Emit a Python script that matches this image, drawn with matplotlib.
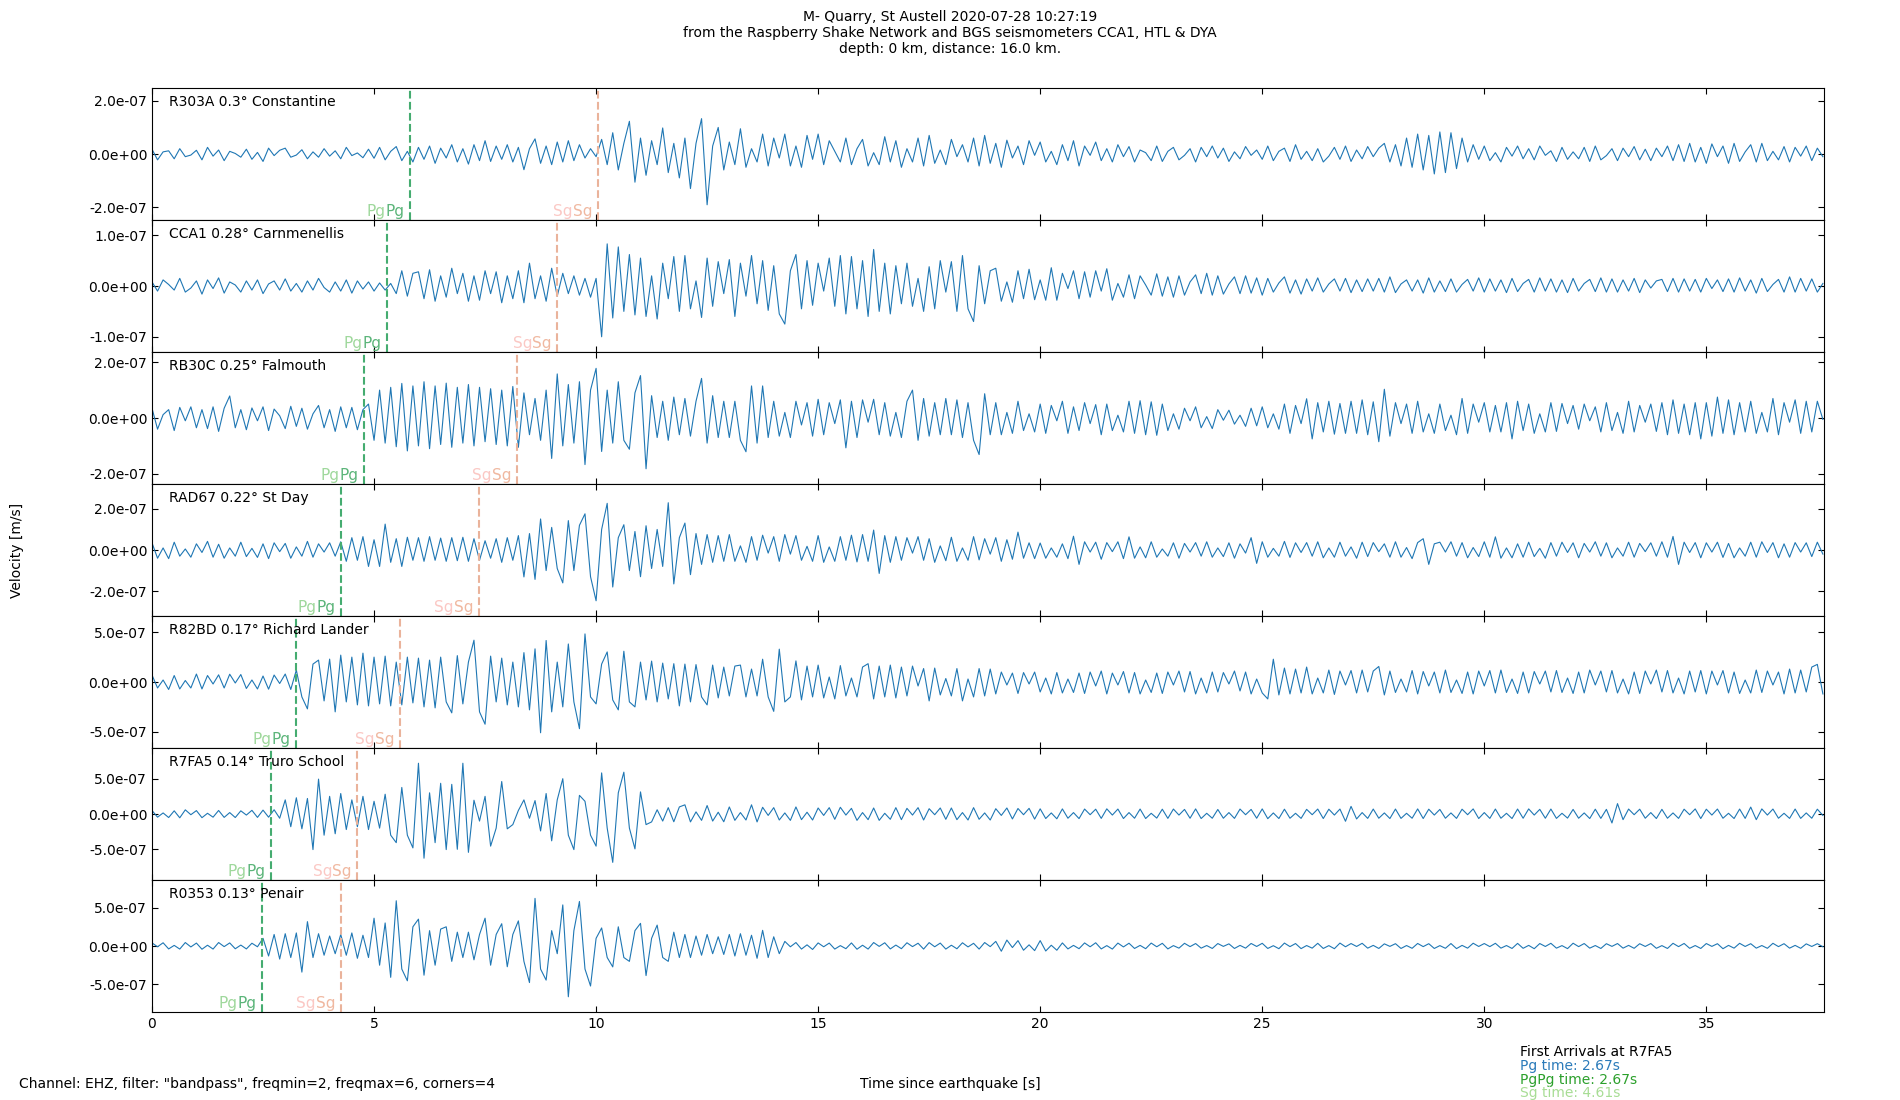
import numpy as np
import matplotlib
matplotlib.use("Agg")
import matplotlib.pyplot as plt
from matplotlib.ticker import MultipleLocator, FormatStrFormatter

# ---------------- data ----------------
stations = ["R303A 0.3° Constantine", "CCA1 0.28° Carnmenellis", "RB30C 0.25° Falmouth",
            "RAD67 0.22° St Day", "R82BD 0.17° Richard Lander", "R7FA5 0.14° Truro School",
            "R0353 0.13° Penair"]
pg_times = [5.81, 5.29, 4.78, 4.26, 3.24, 2.67, 2.47]
sg_times = [10.04, 9.13, 8.22, 7.36, 5.58, 4.62, 4.25]
sample_dt = 0.125          # seconds between samples
unit = 1e-9                # amplitudes below are in nm/s

r303a = [
 18,-22,8,12,-18,20,-10,-4,  14,-22,25,-8,15,-25,10,2,  -12,18,-20,6,-28,22,-6,14,
 22,-12,-4,16,-18,8,-12,20,  -8,12,-18,25,-6,4,-14,18,  -16,25,-22,10,28,-25,10,-30,
 25,-20,30,-35,22,-15,35,-30,  20,-38,35,-25,50,-28,30,-20,  35,-30,25,-59,20,57,-35,30,
 -40,45,-30,50,-25,35,-15,20,  -10,55,-40,80,-60,40,123,-106,  60,-80,50,-40,98,-70,40,-90,
 60,-130,40,133,-191,30,100,-60,  45,-40,95,-50,20,-30,75,-45,  60,-15,75,-45,30,-50,70,-20,
 75,-40,50,10,-30,60,-40,20,  55,-45,5,-40,65,-30,50,-50,  20,-30,60,-45,70,-35,15,-40,
 55,-10,35,-30,60,-45,70,-35,  40,-50,52,-15,30,-40,50,-5,  45,-30,10,-40,35,-25,50,-45,
 30,-5,45,-25,20,-30,35,-10,  28,-30,15,5,-25,30,-28,10,  25,-22,-5,20,-30,25,-10,30,
 -15,22,-28,8,-18,28,-5,15,  -20,30,-25,10,22,-28,35,-20,  10,-25,20,-30,-8,25,-20,30,
 -28,15,-18,28,-10,22,40,-30,  35,-45,60,-50,75,-60,70,-75,  83,-70,80,-55,60,-30,35,-20,
 30,-25,5,-30,25,-8,30,-18,  20,-22,30,-5,12,-28,25,-20,  8,-18,25,-28,30,-22,-6,20,
 -25,22,-10,28,-22,18,-25,22,  -10,30,-25,35,-28,40,-30,25,  -35,38,-10,30,-35,40,-28,8,
 35,-30,40,-25,10,-22,28,-30,  25,-8,30,-25,22,-10]

cca1 = [
 8,-10,12,3,-8,15,-12,-4,  10,-16,12,-5,16,-14,8,2,  -12,10,-8,12,-15,4,10,-8,
 14,-10,5,-12,10,-8,15,-3,  -12,8,-10,12,-14,10,-6,8,  -10,6,-8,5,-15,30,-20,25,
 28,-25,32,-30,20,-22,35,-15,  25,-30,20,-28,30,-15,28,-33,  20,-25,30,-33,45,-25,20,-30,
 35,-20,25,-15,20,-18,15,-22,  15,-100,83,-63,77,-50,62,-57,  55,-60,20,-65,45,-25,58,-50,
 60,-45,10,-62,55,-40,48,-15,  52,-60,45,-20,60,-35,50,-48,  40,-55,-75,30,62,-45,50,-38,
 45,-10,55,-40,60,-55,58,-45,  50,-60,72,-50,45,-55,40,-35,  45,-40,15,-50,38,-45,50,-12,
 48,-50,60,-45,-70,40,-35,30,  35,-30,8,-32,30,-25,33,-27,  12,-28,36,-28,25,-5,30,-25,
 28,-22,30,-10,34,-28,5,-22,  22,-25,20,2,-18,24,-20,18,  -22,20,-18,8,22,-15,25,-18,
 20,-16,4,18,-15,20,-14,16,  -18,15,-12,6,18,-14,12,-16,  14,-10,16,-12,4,14,-10,15,
 -13,12,-11,14,-10,15,-12,18,  -13,4,12,-10,12,-14,16,-12,  10,-11,14,-12,3,13,-10,16,
 -12,14,-10,12,-13,15,-11,5,  13,-12,16,-10,14,-12,12,-13,  15,-10,5,13,-11,16,-12,14,
 -12,12,-10,15,-13,12,-4,10,  13,-11,15,-12,14,-10,13,-12,  15,-5,12,-11,14,-12,16,-10,
 12,-14,15,-11,3,13,-12,18,  -12,15,-10,14,-12,5]

rb30c = [
 35,-40,12,30,-45,38,-10,40,  -35,30,-38,40,-48,35,79,-35,  30,-42,36,-10,40,-45,32,8,
 -38,42,-30,35,-40,15,45,-35,  30,-48,40,-35,38,-42,30,50,  -80,100,-90,110,-103,124,-118,115,
 -100,130,-110,115,-95,125,-105,110,  -90,120,-100,110,-85,105,-95,100,  -100,113,-105,90,-60,70,-80,100,
 -145,158,-100,120,-90,130,-167,100,  178,-120,100,-90,130,-80,-112,90,  152,-182,80,-70,60,-80,75,-60,
 70,-65,60,142,-90,80,-70,60,  -70,60,-80,-121,115,-90,115,-70,  60,-65,20,-70,60,-25,55,-65,
 67,-60,55,-20,65,-107,60,-70,  65,-15,67,-60,55,-65,20,-70,  60,100,-80,70,-65,55,-60,70,
 -60,65,-70,55,-80,-131,87,-60,  55,-60,20,-55,60,-45,15,-50,  50,-55,45,-10,60,-55,40,-45,
 55,-20,48,-60,50,-45,10,-50,  60,-55,62,-60,58,-62,50,-45,  15,-40,35,-10,40,-35,5,-38,
 30,-8,28,-22,10,-30,35,-28,  40,-35,15,-40,50,-55,45,-20,  69,-75,55,-50,60,-58,52,-55,
 60,-55,65,-60,58,-85,103,-65,  55,-20,50,-55,60,-50,15,-55,  50,-45,10,-60,70,-55,50,-15,
 55,-50,45,-50,55,-75,60,-45,  50,-55,15,-50,55,-48,52,-20,  45,-40,50,-10,40,-50,55,-45,
 20,-55,60,-50,45,-15,50,-48,  55,-60,65,-55,50,-60,55,-75,  55,-65,75,-55,65,-60,55,-50,
 60,-55,20,-50,70,-60,55,-15,  65,-55,60,-50,60,-5]

rad67 = [
 35,-40,10,-42,38,-30,5,-35,  30,-12,42,-35,28,-40,10,-30,  38,-32,8,-36,30,-42,35,-8,
 32,-40,15,-30,42,-35,30,-10,  35,-30,40,-55,60,-50,65,-80,  50,-80,126,-60,55,-80,62,-50,
 60,-55,65,-50,58,-55,60,-52,  62,-55,55,-50,45,-40,55,-60,  60,-50,70,-131,80,-143,151,-100,
 110,-90,-160,143,-100,120,176,-130,  -247,100,227,-180,60,123,-100,90,  -130,118,-90,100,-80,230,-165,60,
 131,-120,80,-70,75,-60,70,-55,  75,-55,20,-60,65,-50,72,-15,  65,-55,75,-20,70,-50,18,-55,
 70,-60,15,-55,65,-50,72,-58,  75,-55,97,-114,70,-60,65,-50,  60,-15,65,-50,55,-60,20,-52,
 62,-55,10,-50,65,-48,55,-20,  60,-55,50,-45,87,-40,35,-42,  34,-40,10,-35,30,-42,67,-70,
 40,-10,38,-45,36,-8,40,-42,  64,-40,15,-38,40,-35,5,-30,  35,-40,32,-10,36,-30,40,-35,
 10,-32,35,-40,30,-15,60,-65,  40,-35,8,-30,42,-36,35,-12,  36,-30,40,-38,10,-35,38,-30,
 15,-40,38,-32,36,-8,30,-35,  40,-35,12,-42,36,55,-70,30,  38,-10,40,-30,36,-38,12,-32,
 40,-35,64,-40,10,-38,30,-35,  38,-32,8,-40,36,-30,38,-12,  35,-38,32,-10,40,-30,35,-38,
 10,-30,38,-35,32,-8,35,-30,  40,-35,66,-70,38,-12,36,-38,  35,-10,38,-36,32,-38,10,-30,
 38,-35,40,-12,36,-38,30,-35,  36,-10,35,-32,38,-20]

r82bd = [
 70,-60,20,-75,65,-70,15,-60,  80,-70,65,-20,72,-60,78,-10,  75,-65,20,-70,60,-72,70,-15,
 80,-75,120,-150,-270,180,220,-190,  230,-300,270,-200,250,-230,290,-240,  250,-220,260,-240,200,-230,250,-210,
 240,-250,220,-260,250,-200,-310,265,  -220,200,420,-300,-424,260,-200,240,  -230,200,-250,295,-280,333,-510,417,
 -300,200,-250,382,-200,-469,483,-150,  -220,180,302,-180,-280,309,-200,-250,  200,-180,210,-200,190,-170,184,-240,
 180,-200,175,-150,-230,170,-160,150,  -140,160,170,-150,130,-140,229,-150,  -295,330,-200,-150,212,-180,160,-150,
 170,-160,50,-170,165,-140,40,-150,  150,184,-170,160,-150,170,-160,150,  -140,160,-40,135,-190,140,-130,35,
 -140,135,-190,30,-150,135,-140,130,  -120,100,-30,90,-115,95,-20,100,  -100,40,-120,95,-110,30,-105,90,
 -115,100,-40,110,-120,90,-30,105,  -110,95,-120,20,-105,90,-115,100,  -30,110,-100,105,-120,40,-110,100,
 -100,95,-20,110,-90,100,-120,30,  -110,-170,229,-130,140,-120,130,-110,  150,-120,40,-110,120,-125,110,-30,
 115,-110,120,-100,110,156,-130,110,  -105,30,-100,115,-120,105,-40,100,  -110,120,-105,20,-115,100,-120,110,
 -40,115,-110,120,-105,30,-115,100,  -110,105,-20,110,-100,115,-105,40,  -115,100,-110,120,-30,110,-100,115,
 -110,30,-120,100,-115,110,-20,120,  -100,115,-110,40,-120,110,-100,115,  -120,110,-30,115,-110,100,-115,20,
 -110,120,-105,110,-30,100,-120,130,  -110,120,-100,150,177,-120]

r7fa5 = [
 50,-45,15,-50,45,-54,59,-10,  48,-52,10,-45,50,-48,20,-50,  45,-15,52,-48,55,-45,60,-60,
 200,-180,230,-210,220,-504,494,-300,  250,-280,290,-220,200,-180,250,-220,  180,-200,280,-300,-406,376,-300,-480,
 719,-626,300,-406,435,-504,420,-500,  719,-543,195,-100,250,-455,-200,460,  -210,-150,50,200,-60,190,-240,290,
 -380,200,500,-300,-504,264,180,-300,  -455,582,-200,-685,300,592,-200,-494,  313,-150,-112,60,-100,90,-110,100,
 130,-112,30,-90,120,-100,25,-110,  100,-90,20,-85,130,-112,95,-20,  90,-85,15,-90,100,-80,25,-85,
 85,-20,90,-75,95,-15,80,-90,  20,-80,85,-90,10,-75,90,-80,  80,-15,90,-85,75,-10,85,-75,
 85,-80,20,-85,90,-75,15,-85,  75,-20,85,-70,78,-10,80,-72,  73,-64,15,-68,72,-60,20,-65,
 70,-10,68,-62,73,-15,70,-64,  20,-60,70,-64,10,-58,68,-62,  70,-15,65,-60,72,-64,10,-60,
 64,-60,20,-62,70,-10,65,-60,  72,-66,15,-64,68,-60,10,-62,  66,-10,70,-64,68,-15,70,-103,
 108,-70,20,-62,70,-60,15,-64,  70,-62,10,-60,72,-64,68,-15,  65,-60,15,-62,68,-10,72,-64,
 20,-62,70,-60,10,-64,70,-60,  72,-15,66,-60,70,-62,10,-58,  65,-60,15,-64,68,-62,66,-127,
 147,-80,70,-10,68,-60,20,-64,  66,-60,15,-62,68,-10,72,-64,  68,-15,70,-60,10,-64,70,-62,
 98,-80,72,-15,70,-60,10,-62,  70,-62,15,-60,68,-20]

r0353 = [
 40,-10,42,-38,8,-40,45,-12,  38,-42,10,-40,45,-8,40,-36,  12,-38,36,-10,100,-130,150,-170,
 160,-150,170,-340,317,-150,160,-120,  130,-100,150,-120,170,-160,140,-150,  362,-250,300,-408,589,-300,-453,250,
 350,-380,200,-250,220,250,-200,180,  -150,180,-180,150,362,-250,150,290,  -270,150,327,-200,-476,620,-300,-444,
 200,-100,535,-661,200,580,-300,-521,  100,235,-150,-272,250,-150,-200,200,  295,-385,100,272,-150,-200,180,-150,
 150,-150,130,-120,150,-100,120,-110,  150,-130,160,-120,140,-160,204,-150,  120,-100,60,-10,45,-40,15,-45,
 40,-10,38,-40,5,-35,40,-42,  10,-40,45,-5,42,-38,12,-35,  42,-8,36,-40,44,-10,38,-40,
 10,-36,42,-12,35,-40,45,-8,  60,-68,77,-20,70,-55,15,-60,  70,-65,10,-55,40,-38,8,-35,
 40,-10,42,-38,5,-40,38,-12,  36,-32,8,-35,38,-10,35,-38,  5,-28,35,-8,32,-28,6,-32,
 32,-5,28,-32,8,-28,33,-6,  35,-32,4,-35,38,-8,32,-34,  6,-28,35,-32,5,-35,38,-10,
 32,-6,35,-28,8,-32,28,-5,  30,-32,6,-30,33,-8,30,-32,  5,-30,32,-34,8,-28,36,-6,
 32,-8,35,-28,6,-32,34,-30,  8,-35,32,-6,35,-28,5,-34,  36,-8,32,-28,6,-32,30,-5,
 32,-28,8,-30,30,-6,32,-30,  5,-32,35,-8,33,-30,6,-32,  32,-5,30,-35,8,-28,35,-6,
 30,-28,6,-30,35,-8,30,-28,  8,-30,28,-6,30,-10]

traces = [r303a, cca1, rb30c, rad67, r82bd, r7fa5, r0353]
ytick_steps = [2e-7, 1e-7, 2e-7, 2e-7, 5e-7, 5e-7, 5e-7]
x_end = 37.65

title_text = ("M- Quarry, St Austell 2020-07-28 10:27:19\n"
              "from the Raspberry Shake Network and BGS seismometers CCA1, HTL & DYA\n"
              "depth: 0 km, distance: 16.0 km.")
filter_text = 'Channel: EHZ, filter: "bandpass", freqmin=2, freqmax=6, corners=4'
arrivals_lines = ["First Arrivals at R7FA5", "Pg time: 2.67s", "PgPg time: 2.67s", "Sg time: 4.61s"]
arrivals_colors = ["black", "#2b7bba", "#2ca02c", "#a8dd95"]

# ---------------- plot ----------------
plt.rcParams['font.family'] = ['DejaVu Sans']
plt.rcParams['font.size'] = 10

fig, axes = plt.subplots(len(traces), 1, sharex=True, figsize=(19, 11), dpi=100)
fig.subplots_adjust(left=0.08, right=0.96, top=0.92, bottom=0.08, hspace=0)


def phase_label(ax, x, text, col_first, col_second):
    trans = ax.get_xaxis_transform()
    second = ax.annotate(text, xy=(x, 0), xycoords=trans, xytext=(-4, 3),
                         textcoords='offset points', ha='right', va='baseline',
                         color=col_second, fontsize=11)
    ax.annotate(text, xy=(0, 0), xycoords=second, ha='right', va='bottom',
                color=col_first, fontsize=11)


for ax, name, tr, pg, sg, step in zip(axes, stations, traces, pg_times, sg_times, ytick_steps):
    vals = np.array(tr, dtype=float) * unit
    t = np.arange(len(vals)) * sample_dt
    ax.plot(t, vals, color="#1f77b4", lw=0.8)
    lim = 1.3 * np.abs(vals).max()
    ax.set_ylim(-lim, lim)
    ax.set_xlim(0, x_end)
    ax.yaxis.set_major_locator(MultipleLocator(step))
    ax.yaxis.set_major_formatter(FormatStrFormatter('%.1e'))
    ax.tick_params(direction='in', top=True, right=True, length=4, labelsize=10)
    ax.axvline(pg, color="#45ac70", ls='--', lw=1.5)
    ax.axvline(sg, color="#eab39b", ls='--', lw=1.5)
    phase_label(ax, pg, "Pg", "#9fd89c", "#5cb57a")
    phase_label(ax, sg, "Sg", "#fbc8c4", "#f0b8a0")
    ax.text(0.01, 0.95, name, transform=ax.transAxes, ha='left', va='top', fontsize=10)

axes[-1].xaxis.set_major_locator(MultipleLocator(5))

fig.text(0.5, 0.991, title_text, ha='center', va='top', fontsize=10, linespacing=1.2)
fig.text(0.009, 0.5, "Velocity [m/s]", rotation=90, ha='center', va='center', fontsize=10)
fig.text(0.01, 0.0145, filter_text, ha='left', va='center', fontsize=10)
fig.text(0.5, 0.0145, "Time since earthquake [s]", ha='center', va='center', fontsize=10)
for i, (line, col) in enumerate(zip(arrivals_lines, arrivals_colors)):
    fig.text(0.8, 0.0435 - i * 0.0125, line, ha='left', va='center', color=col, fontsize=10)

fig.savefig("out.png", dpi=100)
